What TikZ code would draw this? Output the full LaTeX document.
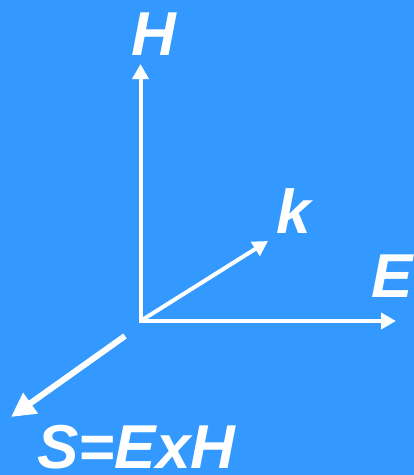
\documentclass[tikz,border=0pt]{standalone}
\usepackage{fontspec}
\setmainfont{Liberation Sans}
\usetikzlibrary{arrows.meta}
\definecolor{bgblue}{RGB}{51,153,255}
\tikzset{
  axis/.style={draw=white, line width=4pt, -{Triangle[length=15pt,width=16pt]}},
  saxis/.style={draw=white, line width=6pt, -{Triangle[length=24pt,width=24pt]}},
  lbl/.style={text=white, inner sep=0pt, anchor=base west, font=\fontsize{62}{62}\selectfont\bfseries\itshape}
}
\begin{document}
\begin{tikzpicture}[x=1pt,y=-1pt]
\fill[bgblue] (0,0) rectangle (414,475);
\useasboundingbox (0,0) rectangle (414,475);
\coordinate (O) at (140.5,321);
\coordinate (Htip) at (140.5,64);
\coordinate (Etip) at (396,321);
\coordinate (Ktip) at (268,241);
\coordinate (Sstart) at (125,336);
\coordinate (Stip) at (11,417);
\draw[axis] (O) -- (Htip);
\draw[axis] ([xshift=-2pt]O) -- (Etip);
\draw[axis] (O) -- (Ktip);
\draw[saxis] (Sstart) -- (Stip);
\node[lbl] (H) at (131,55) {H};
\node[lbl] (k) at (276,233) {k};
\node[lbl] (E) at (371,297) {E};
\node[lbl] (S) at (37,468) {S=ExH};
\end{tikzpicture}
\end{document}
